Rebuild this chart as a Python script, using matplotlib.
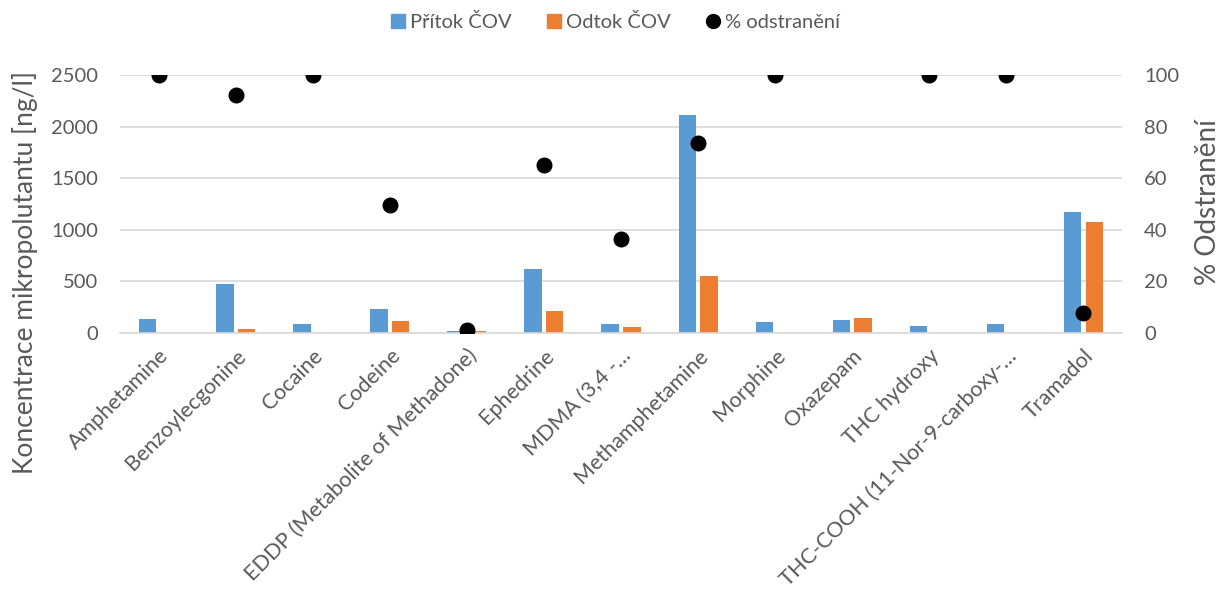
import numpy as np
import matplotlib
matplotlib.use("Agg")
import matplotlib.pyplot as plt
from matplotlib.lines import Line2D

categories = [
    "Amphetamine", "Benzoylecgonine", "Cocaine", "Codeine",
    "EDDP (Metabolite of Methadone)", "Ephedrine", "MDMA (3,4 -…",
    "Methamphetamine", "Morphine", "Oxazepam", "THC hydroxy",
    "THC-COOH (11-Nor-9-carboxy-…", "Tramadol",
]
pritok = [135, 478, 86, 233, 17, 617, 92, 2115, 105, 122, 72, 86, 1168]
odtok = [0, 34, 0, 115, 17, 213, 57, 549, 0, 142, 0, 0, 1078]
odstraneni = [100, 92.4, 100, 49.7, 1.2, 65.0, 36.5, 73.8, 100, np.nan, 100, 100, 7.7]

left_ticks = [0, 500, 1000, 1500, 2000, 2500]
right_ticks = [0, 20, 40, 60, 80, 100]

BLUE = "#5b9bd5"
ORANGE = "#ed7d31"
TEXT = "#595959"
GRID = "#d9d9d9"

plt.rcParams["font.family"] = ["Lato", "DejaVu Sans"]

W, H = 1220, 591
fig = plt.figure(figsize=(W / 100, H / 100), dpi=100)
ax = fig.add_axes([120 / W, 1 - 333 / H, 1002 / W, 258 / H])
ax2 = ax.twinx()

x = np.arange(len(categories))
w = 0.226
off = 0.14
ax.bar(x - off, pritok, width=w, color=BLUE, zorder=2)
ax.bar(x + off, odtok, width=w, color=ORANGE, zorder=2)

ax.set_xlim(-0.5, len(categories) - 0.5)
ax.set_ylim(0, 2500)
ax.set_yticks(left_ticks)
ax.yaxis.grid(True, color=GRID, linewidth=1.2, zorder=0)
ax.set_axisbelow(True)
ax.set_xticks(x)
ax.set_xticklabels(categories, rotation=45, ha="right", rotation_mode="anchor",
                   fontsize=15.5, color=TEXT)
ax.tick_params(axis="y", labelsize=14.5, colors=TEXT, length=0, pad=16)
ax.tick_params(axis="x", length=0, pad=9)

ax2.plot(x, odstraneni, linestyle="none", marker="o", markersize=10.5,
         color="black", zorder=5)
ax2.set_ylim(0, 100)
ax2.set_yticks(right_ticks)
ax2.tick_params(axis="y", labelsize=14.5, colors=TEXT, length=0, pad=16)

fig.text(25 / W, 1 - 273 / H, "Koncentrace mikropolutantu [ng/l]", rotation=90,
         ha="center", va="center", fontsize=19, color=TEXT)
fig.text(1208 / W, 1 - 202 / H, "% Odstranění", rotation=90,
         ha="center", va="center", fontsize=20, color=TEXT)

for a in (ax, ax2):
    for s in a.spines.values():
        s.set_visible(False)
ax.spines["bottom"].set_visible(True)
ax.spines["bottom"].set_color(GRID)
ax.spines["bottom"].set_linewidth(1.2)

handles = [
    Line2D([], [], linestyle="none", marker="s", markersize=10, color=BLUE),
    Line2D([], [], linestyle="none", marker="s", markersize=10, color=ORANGE),
    Line2D([], [], linestyle="none", marker="o", markersize=10, color="black"),
]
labels = ["Přítok ČOV", "Odtok ČOV", "% odstranění"]
fig.legend(handles, labels, loc="center", bbox_to_anchor=(0.503, 0.962), ncol=3,
           frameon=False, fontsize=14.5, labelcolor=TEXT, handletextpad=0.1,
           columnspacing=1.6, handlelength=1.0)

fig.savefig("out.png", dpi=100)
